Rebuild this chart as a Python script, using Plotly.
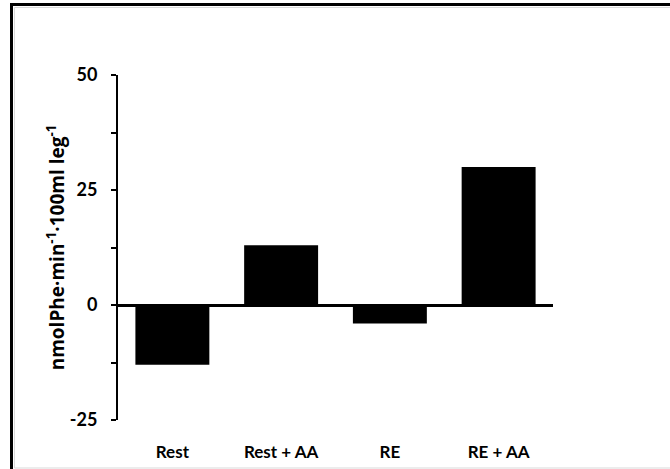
import plotly.graph_objects as go

# Net phenylalanine balance per condition
categories = ["Rest", "Rest + AA", "RE", "RE + AA"]
values = [-13, 13, -4, 30]

y_ticks = [-25, 0, 25, 50]
y_minor_ticks = [-12.5, 12.5, 37.5]
y_title = "nmolPhe·min<sup>-1</sup>·100ml leg<sup>-1</sup>"

FONT = "Lato"
TITLE_FONT = "Open Sans"

# plot area in pixels: x 118..553, y 75..420
PW, PH = 435, 345


def px_x(p):
    return (p - 118) / PW


def px_y(p):
    return (420 - p) / PH


fig = go.Figure(
    go.Bar(
        x=categories,
        y=values,
        marker=dict(color="black", line=dict(width=0)),
        width=0.68,
    )
)

fig.update_layout(
    width=670,
    height=469,
    margin=dict(l=118, r=117, t=75, b=49),
    paper_bgcolor="white",
    plot_bgcolor="white",
    showlegend=False,
    font=dict(family=FONT, size=17, color="black"),
    xaxis=dict(
        showline=False,
        showgrid=False,
        ticks="",
        ticklabelstandoff=20,
        tickfont=dict(family=FONT, size=17, color="black", weight="bold"),
        automargin=False,
    ),
    yaxis=dict(
        range=[-25, 50],
        tickvals=y_ticks,
        ticktext=[str(v) for v in y_ticks],
        showline=True,
        linecolor="black",
        linewidth=2,
        ticks="outside",
        ticklen=5,
        tickwidth=2,
        tickcolor="black",
        ticklabelstandoff=10,
        minor=dict(ticks="outside", ticklen=5, tickwidth=2, tickcolor="black",
                   tickvals=y_minor_ticks),
        showgrid=False,
        zeroline=True,
        zerolinecolor="black",
        zerolinewidth=3,
        tickfont=dict(family=FONT, size=18, color="black", weight="bold"),
        title=dict(text=y_title,
                   font=dict(family=TITLE_FONT, size=19, color="black", weight="bold"),
                   standoff=0),
        automargin=False,
    ),
    shapes=[
        # outer frame
        dict(type="rect", xref="paper", yref="paper",
             x0=px_x(11.5), x1=px_x(690), y0=px_y(490), y1=px_y(4.5),
             line=dict(color="black", width=3), fillcolor="rgba(0,0,0,0)", layer="below"),
        dict(type="rect", xref="paper", yref="paper",
             x0=px_x(14.5), x1=px_x(690), y0=px_y(468), y1=px_y(7.5),
             line=dict(color="#d9d9d9", width=1), fillcolor="rgba(0,0,0,0)", layer="below"),
    ],
)

fig.write_html("out.html")
